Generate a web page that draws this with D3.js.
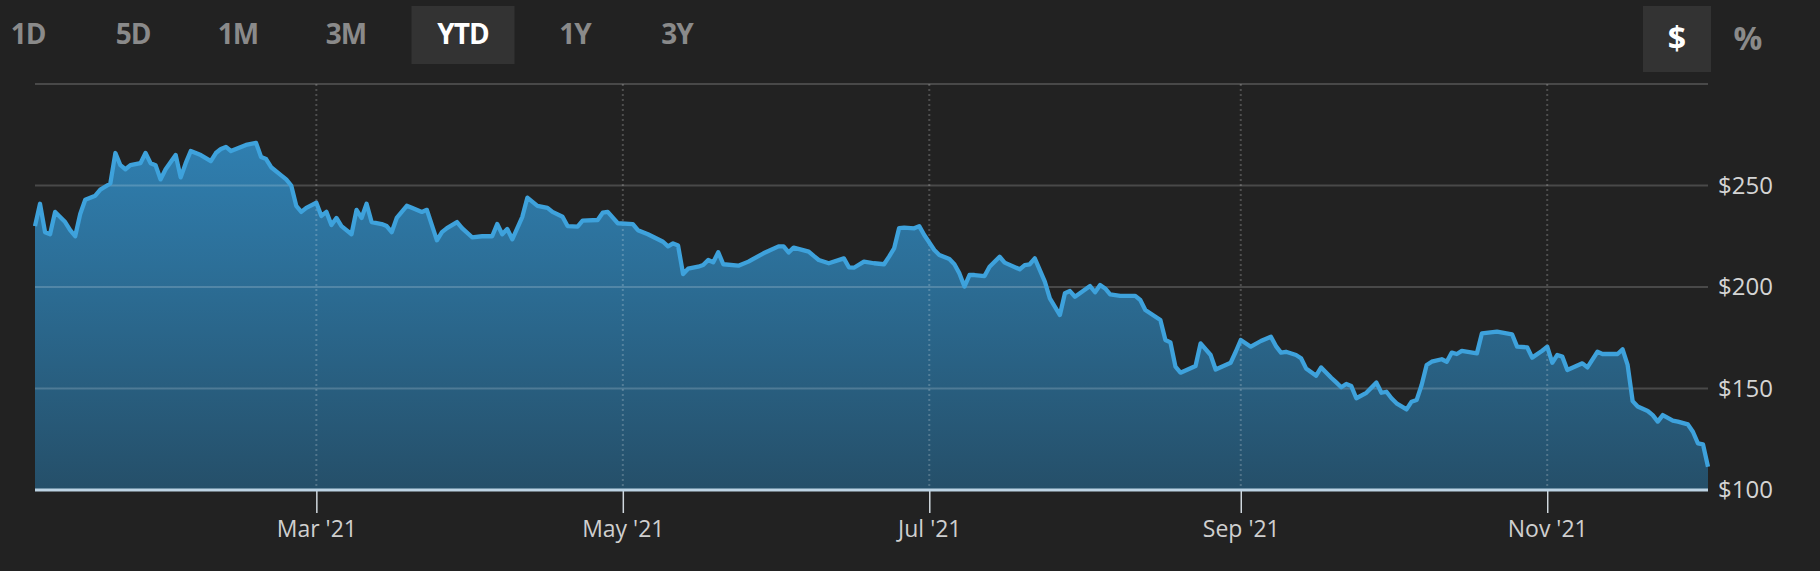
<!DOCTYPE html>
<html>
<head>
<meta charset="utf-8">
<script src="https://cdn.jsdelivr.net/npm/d3@7"></script>
<style>
  html, body { margin: 0; padding: 0; background: #222222; }
  svg { display: block; }
  text { font-family: "Open Sans", "DejaVu Sans", sans-serif; }
</style>
</head>
<body>
<svg id="chart" width="1820" height="571"></svg>
<script>
// ---------- DATA ----------
const dates = [
"2021-01-04","2021-01-05","2021-01-06","2021-01-07","2021-01-08","2021-01-10","2021-01-11","2021-01-12","2021-01-13","2021-01-14",
"2021-01-15","2021-01-16","2021-01-17","2021-01-19","2021-01-20","2021-01-21","2021-01-22","2021-01-23","2021-01-25","2021-01-26",
"2021-01-27","2021-01-28","2021-01-29","2021-01-30","2021-02-01","2021-02-02","2021-02-03","2021-02-04","2021-02-06","2021-02-08",
"2021-02-09","2021-02-10","2021-02-11","2021-02-12","2021-02-14","2021-02-15","2021-02-17","2021-02-18","2021-02-19","2021-02-20",
"2021-02-22","2021-02-23","2021-02-24","2021-02-25","2021-02-26","2021-02-27","2021-03-01","2021-03-02","2021-03-03","2021-03-04",
"2021-03-05","2021-03-06","2021-03-08","2021-03-09","2021-03-10","2021-03-11","2021-03-12","2021-03-14","2021-03-15","2021-03-16",
"2021-03-17","2021-03-19","2021-03-20","2021-03-22","2021-03-23","2021-03-25","2021-03-26","2021-03-27","2021-03-29","2021-03-30",
"2021-04-01","2021-04-03","2021-04-05","2021-04-06","2021-04-07","2021-04-08","2021-04-09","2021-04-11","2021-04-12","2021-04-14",
"2021-04-16","2021-04-17","2021-04-19","2021-04-20","2021-04-22","2021-04-23","2021-04-26","2021-04-27","2021-04-28","2021-04-30",
"2021-05-03","2021-05-04","2021-05-06","2021-05-09","2021-05-10","2021-05-11","2021-05-12","2021-05-13","2021-05-14","2021-05-16",
"2021-05-17","2021-05-18","2021-05-19","2021-05-20","2021-05-21","2021-05-24","2021-05-26","2021-05-29","2021-06-01","2021-06-02",
"2021-06-03","2021-06-04","2021-06-07","2021-06-08","2021-06-09","2021-06-11","2021-06-14","2021-06-15","2021-06-16","2021-06-18",
"2021-06-20","2021-06-22","2021-06-23","2021-06-24","2021-06-25","2021-06-26","2021-06-28","2021-06-29","2021-06-30","2021-07-02",
"2021-07-03","2021-07-05","2021-07-06","2021-07-07","2021-07-08","2021-07-09","2021-07-10","2021-07-12","2021-07-13","2021-07-15",
"2021-07-16","2021-07-19","2021-07-20","2021-07-21","2021-07-22","2021-07-24","2021-07-25","2021-07-27","2021-07-28","2021-07-29",
"2021-07-30","2021-08-02","2021-08-03","2021-08-04","2021-08-05","2021-08-06","2021-08-08","2021-08-11","2021-08-12","2021-08-13",
"2021-08-16","2021-08-17","2021-08-18","2021-08-19","2021-08-20","2021-08-23","2021-08-24","2021-08-26","2021-08-27","2021-08-30",
"2021-08-31","2021-09-01","2021-09-03","2021-09-05","2021-09-07","2021-09-08","2021-09-09","2021-09-10","2021-09-12","2021-09-13",
"2021-09-14","2021-09-16","2021-09-17","2021-09-19","2021-09-20","2021-09-21","2021-09-22","2021-09-23","2021-09-24","2021-09-26",
"2021-09-28","2021-09-29","2021-09-30","2021-10-01","2021-10-02","2021-10-04","2021-10-05","2021-10-06","2021-10-07","2021-10-08",
"2021-10-09","2021-10-11","2021-10-12","2021-10-13","2021-10-14","2021-10-15","2021-10-18","2021-10-19","2021-10-22","2021-10-25",
"2021-10-26","2021-10-28","2021-10-29","2021-10-31","2021-11-01","2021-11-02","2021-11-03","2021-11-04","2021-11-05","2021-11-08",
"2021-11-09","2021-11-11","2021-11-12","2021-11-15","2021-11-16","2021-11-17","2021-11-18","2021-11-19","2021-11-21","2021-11-22",
"2021-11-23","2021-11-24","2021-11-26","2021-11-27","2021-11-29","2021-11-30","2021-12-01","2021-12-02","2021-12-03"
];
const prices = [
230,241,227,226,237,232,228,225,236,243,
244,245,248,251,266,260,258,260,261,266,
261,260,253,258,265,254,261,267,265,262,
266,268,269,267,269,270,271,264,263,259,
255,253,250,240,237,239,241.5,235,237,230.5,
234,230,226,238,234,241,232,231,230,227,
234,240,239,237,238,223,227,229,232,229,
224.5,225,225,231,226,228.6,223.5,234.6,244,240,
239,237,234.6,230,229.7,232.7,233,236.6,237,231.4,
231,228,226,222.3,220,221.5,220.4,206.4,209,210,
210.8,213.3,212.2,217.1,211.2,210.5,212.5,216.6,220,220,
217,219.4,217.4,215.3,213.3,211.7,214.1,209.7,209.5,212.5,
211.7,211.2,215,219,229,229.2,228.9,230,225.6,218.2,
215.8,213.8,211.2,206.7,200.2,205.9,205.9,205.4,210,214.9,
212,208.7,210.8,211.2,214.1,202.6,194.4,186.2,196.9,198,
195.2,200.5,197.4,201,199.3,196.4,195.6,195.6,193.6,188.7,
183.7,173.9,172.7,160.8,157.8,161.1,172.2,166.5,159.4,162.7,
168.1,173.9,170.6,173.4,175.5,170.9,167.7,168.1,166.5,164.9,
159.9,156.3,160.4,155.3,153,150.6,152.2,151.2,145.2,147.9,
152.9,147.9,148.4,145.2,142.7,139.7,143.5,144.3,151.7,161.6,
163.2,164.4,163.2,167.7,167,168.5,167.3,177.2,178,176.7,
170.6,170.3,165.2,168.6,170.6,162.7,166.5,165.7,159.1,162.4,
160.4,168.1,167,167,169.3,161.6,143.8,141.1,138.9,136.9,
133.7,136.9,134.2,133.7,132.3,128.7,123,122.5,111.5
];
const xTickDates = ["2021-03-01","2021-05-01","2021-07-01","2021-09-01","2021-11-01"];
const xTickLabels = ["Mar '21","May '21","Jul '21","Sep '21","Nov '21"];
const yTickValues = [100, 150, 200, 250];
const yGridValues = [150, 200, 250, 300];
const rangeLabels = ["1D","5D","1M","3M","YTD","1Y","3Y"];
const activeRange = "YTD";
const unitLabels = ["$","%"];
const activeUnit = "$";

// ---------- LAYOUT ----------
const W = 1820, H = 571;
const plot = { left: 35, right: 1708, top: 84, bottom: 490 };
const rangeCenters = [28, 133, 238, 346, 463, 575, 677];
const rangeBox = { w: 103, y: 6, h: 58 };
const unitCenters = [1677, 1748];
const unitBox = { w: 68, y: 6, h: 66 };

const parse = d3.timeParse("%Y-%m-%d");
const data = dates.map((d, i) => ({ date: parse(d), value: prices[i] }));

const x = d3.scaleTime()
  .domain([parse("2021-01-04"), parse("2021-12-03")])
  .range([plot.left, plot.right]);
const y = d3.scaleLinear().domain([100, 300]).range([plot.bottom, plot.top]);

const svg = d3.select("#chart");
svg.append("rect").attr("width", W).attr("height", H).attr("fill", "#222222");

// gradient
const defs = svg.append("defs");
const grad = defs.append("linearGradient").attr("id", "fillGrad")
  .attr("gradientUnits", "userSpaceOnUse")
  .attr("x1", 0).attr("x2", 0).attr("y1", plot.top).attr("y2", plot.bottom);
grad.append("stop").attr("offset", "0%").attr("stop-color", "#3186bb");
grad.append("stop").attr("offset", "45%").attr("stop-color", "#2c6f98");
grad.append("stop").attr("offset", "100%").attr("stop-color", "#254f69");

// area + line
const area = d3.area().x(d => x(d.date)).y0(y(100)).y1(d => y(d.value));
const line = d3.line().x(d => x(d.date)).y(d => y(d.value));
svg.append("path").datum(data).attr("d", area).attr("fill", "url(#fillGrad)");

// horizontal grid
svg.append("g").selectAll("line").data(yGridValues).join("line")
  .attr("x1", plot.left).attr("x2", plot.right)
  .attr("y1", d => y(d)).attr("y2", d => y(d))
  .attr("stroke", "rgba(255,255,255,0.18)").attr("stroke-width", 2);

// vertical dotted grid
svg.append("g").selectAll("line").data(xTickDates).join("line")
  .attr("x1", d => x(parse(d))).attr("x2", d => x(parse(d)))
  .attr("y1", plot.top).attr("y2", plot.bottom)
  .attr("stroke", "rgba(255,255,255,0.2)").attr("stroke-width", 2)
  .attr("stroke-dasharray", "2,3");

svg.append("path").datum(data).attr("d", line)
  .attr("fill", "none").attr("stroke", "#3ea2dc").attr("stroke-width", 4.3)
  .attr("stroke-linejoin", "round");

// x axis
const xAxis = d3.axisBottom(x)
  .tickValues(xTickDates.map(parse))
  .tickFormat((d, i) => xTickLabels[i])
  .tickSize(23).tickPadding(8);
const gx = svg.append("g").attr("transform", `translate(0,${plot.bottom})`).call(xAxis);
gx.select(".domain").remove();
gx.selectAll(".tick line").attr("stroke", "#d0d8de").attr("stroke-width", 1.5);
gx.selectAll(".tick text").attr("fill", "#cfcfcf").attr("font-size", 23)
  .attr("font-family", "'Open Sans', sans-serif");
svg.append("line").attr("x1", plot.left).attr("x2", plot.right)
  .attr("y1", plot.bottom).attr("y2", plot.bottom)
  .attr("stroke", "#bcd3e4").attr("stroke-width", 3);

// y axis
const yAxis = d3.axisRight(y).tickValues(yTickValues)
  .tickFormat(d => "$" + d).tickSize(0).tickPadding(10);
const gy = svg.append("g").attr("transform", `translate(${plot.right},0)`).call(yAxis);
gy.select(".domain").remove();
gy.selectAll(".tick text").attr("fill", "#d4d4d4").attr("font-size", 24)
  .attr("font-family", "'Open Sans', sans-serif");

// range buttons
const rb = svg.append("g");
rb.selectAll("rect").data(rangeLabels.filter(d => d === activeRange)).join("rect")
  .attr("x", d => rangeCenters[rangeLabels.indexOf(d)] - rangeBox.w / 2)
  .attr("y", rangeBox.y).attr("width", rangeBox.w).attr("height", rangeBox.h)
  .attr("fill", "#333333");
rb.selectAll("text").data(rangeLabels).join("text")
  .attr("x", (d, i) => rangeCenters[i]).attr("y", 44)
  .attr("text-anchor", "middle").attr("font-size", 28).attr("font-weight", 700)
  .attr("letter-spacing", -1)
  .attr("fill", d => d === activeRange ? "#ffffff" : "#8a8a8a")
  .text(d => d);

// unit buttons
const ub = svg.append("g");
ub.selectAll("rect").data(unitLabels.filter(d => d === activeUnit)).join("rect")
  .attr("x", d => unitCenters[unitLabels.indexOf(d)] - unitBox.w / 2)
  .attr("y", unitBox.y).attr("width", unitBox.w).attr("height", unitBox.h)
  .attr("fill", "#333333");
ub.selectAll("text").data(unitLabels).join("text")
  .attr("x", (d, i) => unitCenters[i]).attr("y", 50)
  .attr("text-anchor", "middle").attr("font-size", 32).attr("font-weight", 700)
  .attr("fill", d => d === activeUnit ? "#ffffff" : "#8a8a8a")
  .text(d => d);
</script>
</body>
</html>
